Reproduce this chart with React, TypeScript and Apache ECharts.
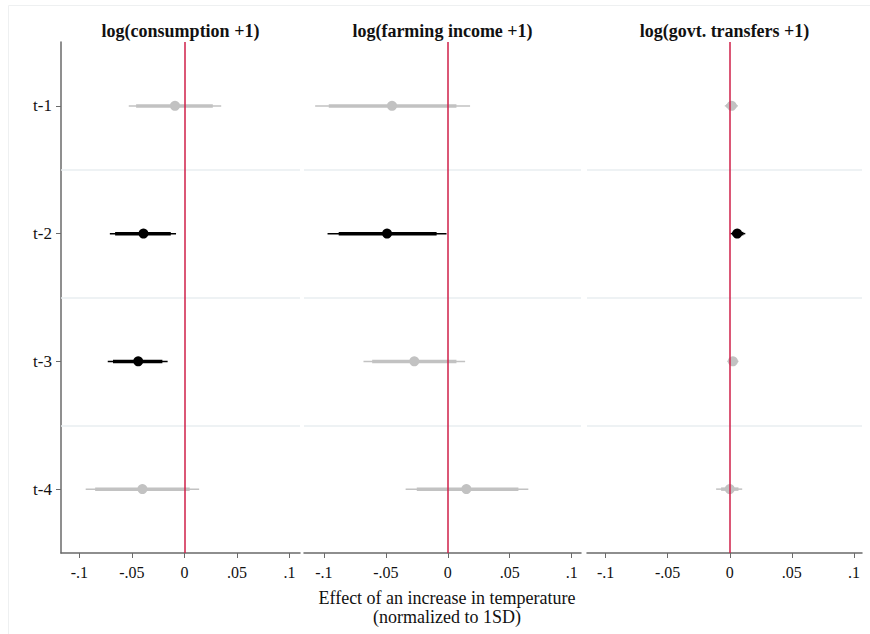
import React, { useEffect, useRef } from "react";
import * as echarts from "echarts";

// Lags of the temperature shock, top to bottom
const categories = ["t-1", "t-2", "t-3", "t-4"];
const panelTitles = [
  "log(consumption +1)",
  "log(farming income +1)",
  "log(govt. transfers +1)",
];
const xTicks = [-0.1, -0.05, 0, 0.05, 0.1];
const xTickLabels = ["-.1", "-.05", "0", ".05", ".1"];

// log(consumption +1)
const consumptionEst = [-0.009, -0.039, -0.044, -0.04];
const consumptionLo95 = [-0.053, -0.071, -0.073, -0.094];
const consumptionHi95 = [0.035, -0.008, -0.016, 0.014];
const consumptionLo90 = [-0.046, -0.066, -0.068, -0.085];
const consumptionHi90 = [0.027, -0.013, -0.021, 0.005];

// log(farming income +1)
const farmingEst = [-0.045, -0.049, -0.027, 0.015];
const farmingLo95 = [-0.107, -0.097, -0.068, -0.034];
const farmingHi95 = [0.018, -0.001, 0.014, 0.065];
const farmingLo90 = [-0.096, -0.088, -0.061, -0.025];
const farmingHi90 = [0.007, -0.009, 0.007, 0.057];

// log(govt. transfers +1)
const transfersEst = [0.0015, 0.006, 0.0025, 0.0];
const transfersLo95 = [-0.004, 0.0005, -0.002, -0.011];
const transfersHi95 = [0.0065, 0.0125, 0.007, 0.01];
const transfersLo90 = [-0.003, 0.002, -0.001, -0.007];
const transfersHi90 = [0.0055, 0.011, 0.006, 0.007];

const panels = [
  { est: consumptionEst, lo95: consumptionLo95, hi95: consumptionHi95, lo90: consumptionLo90, hi90: consumptionHi90 },
  { est: farmingEst, lo95: farmingLo95, hi95: farmingHi95, lo90: farmingLo90, hi90: farmingHi90 },
  { est: transfersEst, lo95: transfersLo95, hi95: transfersHi95, lo90: transfersLo90, hi90: transfersHi90 },
];

const SERIF = "Liberation Serif";
const AXIS_GRAY = "#6a6a6a";
const GRID_COLOR = "#e8eef1";
const ZERO_RED = "#cf1f48";
const SIG_COLOR = "#000000";
const NS_COLOR = "#c2c2c2";

const grids = [
  { left: 61, top: 42, width: 239, height: 511 },
  { left: 304, top: 42, width: 277, height: 511 },
  { left: 587, top: 42, width: 275, height: 511 },
];
const xRanges = [
  [-0.1175, 0.11],
  [-0.116, 0.1075],
  [-0.115, 0.1065],
];

function tickLabel(v: number) {
  const i = xTicks.findIndex((t) => Math.abs(t - v) < 1e-9);
  return i >= 0 ? xTickLabels[i] : "";
}

function buildOption() {
  const xAxis = grids.map((_, i) => ({
    type: "value",
    gridIndex: i,
    min: xRanges[i][0],
    max: xRanges[i][1],
    splitLine: { show: false },
    axisLine: { show: true, onZero: false, lineStyle: { color: AXIS_GRAY, width: 1.5 } },
    axisTick: { show: true, customValues: xTicks, length: 5, lineStyle: { color: AXIS_GRAY, width: 1 } },
    axisLabel: {
      customValues: xTicks,
      formatter: tickLabel,
      fontFamily: SERIF,
      fontSize: 16,
      color: "#111",
      margin: 11,
    },
  }));

  const yAxis = grids.map((_, i) => ({
    type: "value",
    gridIndex: i,
    min: 0.5,
    max: 4.5,
    inverse: true,
    splitLine: { show: false },
    axisLine: { show: i === 0, onZero: false, lineStyle: { color: AXIS_GRAY, width: 1.5 } },
    axisTick: { show: i === 0, customValues: [1, 2, 3, 4], length: 5, lineStyle: { color: AXIS_GRAY, width: 1 } },
    axisLabel: {
      show: i === 0,
      customValues: [1, 2, 3, 4],
      formatter: (v: number) => categories[Math.round(v) - 1] ?? "",
      fontFamily: SERIF,
      fontSize: 17,
      color: "#111",
      margin: 9,
    },
  }));

  const series: any[] = [];
  panels.forEach((p, i) => {
    // separators between the lag rows
    series.push({
      type: "scatter",
      xAxisIndex: i,
      yAxisIndex: i,
      data: [],
      z: 1,
      silent: true,
      markLine: {
        symbol: "none",
        silent: true,
        label: { show: false },
        lineStyle: { color: GRID_COLOR, width: 1.5, type: "solid" },
        data: [{ yAxis: 1.5 }, { yAxis: 2.5 }, { yAxis: 3.5 }],
      },
    });

    const data = categories.map((_, k) => {
      const significant = p.lo95[k] > 0 || p.hi95[k] < 0 ? 1 : 0;
      return [p.lo95[k], p.hi95[k], p.lo90[k], p.hi90[k], p.est[k], k + 1, significant];
    });

    series.push({
      type: "custom",
      xAxisIndex: i,
      yAxisIndex: i,
      z: 2,
      silent: true,
      encode: { x: [0, 1, 2, 3, 4], y: 5 },
      data,
      renderItem: (params: any, api: any) => {
        const y = api.value(5);
        const a = api.coord([api.value(0), y]);
        const b = api.coord([api.value(1), y]);
        const c = api.coord([api.value(2), y]);
        const d = api.coord([api.value(3), y]);
        const e = api.coord([api.value(4), y]);
        const color = api.value(6) ? SIG_COLOR : NS_COLOR;
        return {
          type: "group",
          children: [
            { type: "line", shape: { x1: a[0], y1: a[1], x2: b[0], y2: b[1] }, style: { stroke: color, lineWidth: 1.5 } },
            { type: "line", shape: { x1: c[0], y1: c[1], x2: d[0], y2: d[1] }, style: { stroke: color, lineWidth: 3.5 } },
            { type: "circle", shape: { cx: e[0], cy: e[1], r: 5 }, style: { fill: color } },
          ],
        };
      },
    });

    // reference line at zero effect
    series.push({
      type: "scatter",
      xAxisIndex: i,
      yAxisIndex: i,
      data: [],
      z: 3,
      silent: true,
      markLine: {
        symbol: "none",
        silent: true,
        label: { show: false },
        lineStyle: { color: ZERO_RED, width: 1.5, type: "solid" },
        data: [{ xAxis: 0 }],
      },
    });
  });

  const graphic: any[] = [
    {
      type: "rect",
      shape: { x: 8.5, y: 5.5, width: 900, height: 700 },
      style: { fill: "none", stroke: "#eef0f1", lineWidth: 1 },
      silent: true,
      z: 0,
    },
    ...panelTitles.map((t, i) => ({
      type: "text",
      x: grids[i].left + grids[i].width / 2,
      y: 31,
      style: {
        text: t,
        fontFamily: SERIF,
        fontWeight: "bold",
        fontSize: 18,
        fill: "#111",
        textAlign: "center",
        textVerticalAlign: "middle",
      },
    })),
    {
      type: "text",
      x: 447,
      y: 598,
      style: {
        text: "Effect of an increase in temperature",
        fontFamily: SERIF,
        fontSize: 18,
        fill: "#111",
        textAlign: "center",
        textVerticalAlign: "middle",
      },
    },
    {
      type: "text",
      x: 447,
      y: 617,
      style: {
        text: "(normalized to 1SD)",
        fontFamily: SERIF,
        fontSize: 18,
        fill: "#111",
        textAlign: "center",
        textVerticalAlign: "middle",
      },
    },
  ];

  return {
    animation: false,
    backgroundColor: "#ffffff",
    grid: grids,
    xAxis,
    yAxis,
    series,
    graphic,
  };
}

export default function App() {
  const ref = useRef<HTMLDivElement>(null);
  useEffect(() => {
    if (!ref.current) return;
    const chart = echarts.init(ref.current, null, { renderer: "svg" });
    chart.setOption(buildOption() as any);
    return () => chart.dispose();
  }, []);
  return (
    <div
      ref={ref}
      style={{ position: "fixed", left: 0, top: 0, width: 870, height: 634, background: "#fff" }}
    />
  );
}
